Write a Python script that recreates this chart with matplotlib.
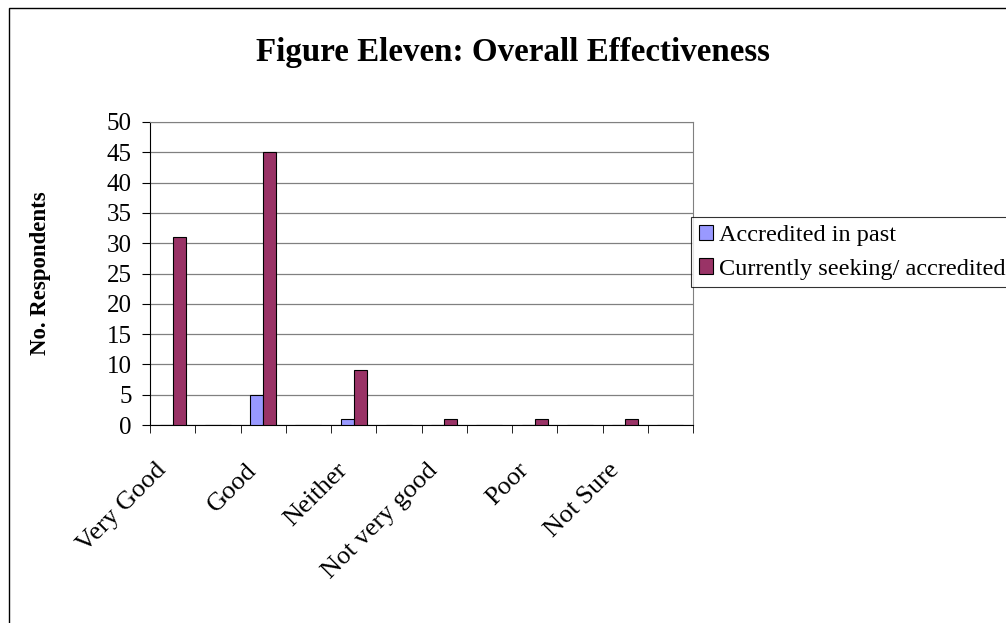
import numpy as np
import matplotlib
matplotlib.use("Agg")
import matplotlib.pyplot as plt
from matplotlib.patches import Rectangle
from matplotlib.transforms import ScaledTranslation

# categories (Excel skipped every other label, so the in-between ones are blank)
categories = ["Very Good", "", "Good", "", "Neither", "", "Not very good", "",
              "Poor", "", "Not Sure", ""]
accredited_past = [0, 0, 5, 0, 1, 0, 0, 0, 0, 0, 0, 0]
currently_seeking = [31, 0, 45, 0, 9, 0, 1, 0, 1, 0, 1, 0]

plt.rcParams['font.family'] = ['Liberation Serif', 'DejaVu Serif']

fig = plt.figure(figsize=(10.06, 6.23), dpi=100)
ax = fig.add_axes([150 / 1006, 1 - 425 / 623, (693 - 150) / 1006, (425 - 122) / 623])

x = np.arange(len(categories)) + 0.5
w = 0.29
ax.bar(x - w / 2, accredited_past, w, color="#9999FF", edgecolor="black",
       linewidth=0.8, label="Accredited in past", zorder=3)
ax.bar(x + w / 2, currently_seeking, w, color="#993366", edgecolor="black",
       linewidth=0.8, label="Currently seeking/ accredited", zorder=3)

ax.set_xlim(0, len(categories))
ax.set_ylim(0, 50)
ax.set_yticks(range(0, 51, 5))
ax.yaxis.grid(True, color="#808080", linewidth=0.9, zorder=0)

ax.set_xticks(x)
ax.set_xticklabels(categories, rotation=45, ha="right", va="center",
                   rotation_mode="anchor", fontsize=19)
ax.tick_params(axis="x", which="major", length=0, pad=30)
shift = ScaledTranslation(-7 / 72, 0, fig.dpi_scale_trans)
for lab in ax.get_xticklabels():
    lab.set_transform(lab.get_transform() + shift)
ax.set_xticks(np.arange(len(categories) + 1), minor=True)
ax.tick_params(axis="x", which="minor", length=6, direction="out", color="black")
ax.tick_params(axis="y", length=6, direction="out", labelsize=18, pad=7)

for s in ["top", "right"]:
    ax.spines[s].set_color("#808080")
ax.spines["left"].set_color("black")
ax.spines["bottom"].set_color("black")

ax.set_ylabel("No. Respondents", fontsize=16.5, fontweight="bold", labelpad=40)

fig.text(513 / 1006, 1 - 52 / 623, "Figure Eleven: Overall Effectiveness",
         ha="center", va="center", fontsize=23.8, fontweight="bold")

leg = fig.legend(loc="upper left", bbox_to_anchor=(691 / 1006, 1 - 217 / 623),
                 fontsize=17.5, frameon=True, fancybox=False, edgecolor="black",
                 handlelength=0.6, handleheight=0.6, handletextpad=0.25,
                 borderpad=0.32, labelspacing=0.5, borderaxespad=0)
leg.get_frame().set_linewidth(0.8)

# chart border
fig.patches.append(Rectangle((9 / 1006, -0.1), 1.1, 1 - 8 / 623 + 0.1,
                             transform=fig.transFigure, fill=False,
                             edgecolor="black", linewidth=1))

fig.savefig("out.png", dpi=100)
